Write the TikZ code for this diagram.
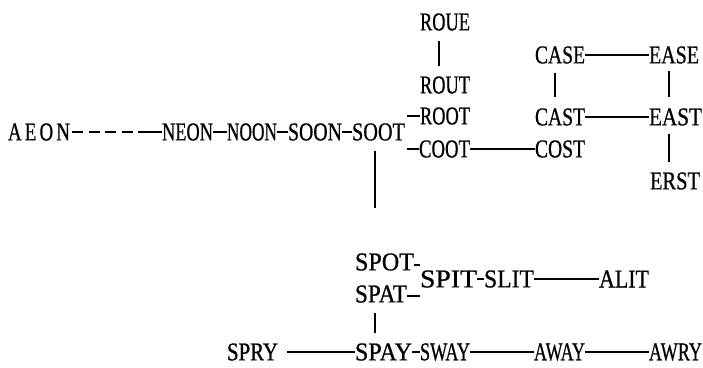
\documentclass[tikz,border=0pt]{standalone}
\usepackage{fontspec}
\setmainfont{Liberation Serif}[FakeBold=0.8]
\usetikzlibrary{calc}
\newcommand{\wrd}[2]{\resizebox{#1pt}{17pt}{#2}}
\tikzset{
  w/.style={inner sep=0pt, outer sep=0pt, anchor=center},
  ln/.style={line width=1.3pt, black},
  hl/.style={ln, yshift=-1.5pt},
}
\begin{document}
\begin{tikzpicture}[x=1pt,y=-1pt]
\useasboundingbox (0,0) rectangle (703,367);
% top row
\node[w] (AEON) at (39,132) {\wrd{62}{A\,E\,O\,N}};
\node[w] (NEON) at (187.5,132) {\wrd{51}{NEON}};
\node[w] (NOON) at (252,132) {\wrd{50}{NOON}};
\node[w] (SOON) at (315,132) {\wrd{54}{SOON}};
\node[w] (SOOT) at (378.5,132) {\wrd{53}{SOOT}};
\node[w] (ROUE) at (445,22) {\wrd{50}{ROUE}};
\node[w] (ROUT) at (445,85) {\wrd{50}{ROUT}};
\node[w] (ROOT) at (445,116) {\wrd{50}{ROOT}};
\node[w] (COOT) at (444.5,149) {\wrd{51}{COOT}};
\node[w] (CASE) at (560,55) {\wrd{50}{CASE}};
\node[w] (CAST) at (560,117) {\wrd{50}{CAST}};
\node[w] (COST) at (560,149) {\wrd{50}{COST}};
\node[w] (EASE) at (674,55) {\wrd{50}{EASE}};
\node[w] (EAST) at (675.5,117) {\wrd{53}{EAST}};
\node[w] (ERST) at (675,181) {\wrd{50}{ERST}};
% lower part
\node[w] (SPOT) at (384.5,262) {\wrd{59}{SPOT}};
\node[w] (SPAT) at (381,294) {\wrd{52}{SPAT}};
\node[w] (SPIT) at (448.5,279) {\wrd{57}{SPIT}};
\node[w] (SLIT) at (509,279) {\wrd{50}{SLIT}};
\node[w] (ALIT) at (624,279) {\wrd{50}{ALIT}};
\node[w] (SPRY) at (252.5,352) {\wrd{51}{SPRY}};
\node[w] (SPAY) at (383.5,352) {\wrd{57}{SPAY}};
\node[w] (SWAY) at (445,352) {\wrd{50}{SWAY}};
\node[w] (AWAY) at (559.5,352) {\wrd{51}{AWAY}};
\node[w] (AWRY) at (675.5,352) {\wrd{53}{AWRY}};
% connectors, top row
\coordinate (dend) at ($(AEON.east)!0.77!(NEON.west)$);
\draw[hl, dash pattern=on 11pt off 5.5pt, shorten <=2pt] (AEON.east) -- (dend);
\draw[hl] (dend) -- (NEON.west);
\draw[hl] (NEON.east) -- (NOON.west);
\draw[hl] (NOON.east) -- (SOON.west);
\draw[hl] (SOON.east) -- (SOOT.west);
\draw[hl] ($(SOOT.east |- ROOT.west)+(2,0)$) -- (ROOT.west);
\draw[hl] ($(SOOT.east |- COOT.west)+(2,0)$) -- (COOT.west);
\draw[ln] ($(ROUE.south)+(-6,10)$) -- ($(ROUE.south |- ROUT.north)+(-6,-10)$);
\draw[hl] (COOT.east) -- (COST.west);
\draw[hl] (CASE.east) -- (EASE.west);
\draw[hl] (CAST.east) -- (EAST.west);
\draw[ln] ($(CASE.south)+(-5,9)$) -- ($(CASE.south |- CAST.north)+(-5,-11)$);
\draw[ln] ($(EASE.south)+(-5,7)$) -- ($(EASE.south |- EAST.north)+(-5,-11)$);
\draw[ln] ($(EASE.south |- EAST.south)+(-5,8)$) -- ($(EASE.south |- ERST.north)+(-5,-10)$);
\draw[ln] ($(SOOT.south)+(-3.5,10)$) -- ($(SPOT.north -| SOOT.south)+(-3.5,-45)$);
% connectors, lower part
\draw[hl] ($(SPOT.east)+(0,3)$) -- ($(SPOT.east -| SPIT.west)+(0,3)$);
\draw[hl] ($(SPAT.east)+(0,2)$) -- ($(SPAT.east -| SPIT.west)+(0,2)$);
\draw[hl] (SPIT.east) -- (SLIT.west);
\draw[hl] (SLIT.east) -- (ALIT.west);
\draw[ln] ($(SPAT.south)+(-6,10)$) -- ($(SPAT.south |- SPAY.north)+(-6,-10)$);
\draw[hl, shorten <=9pt] (SPRY.east) -- (SPAY.west);
\draw[hl] (SPAY.east) -- (SWAY.west);
\draw[hl] (SWAY.east) -- (AWAY.west);
\draw[hl] (AWAY.east) -- (AWRY.west);
\end{tikzpicture}
\end{document}
